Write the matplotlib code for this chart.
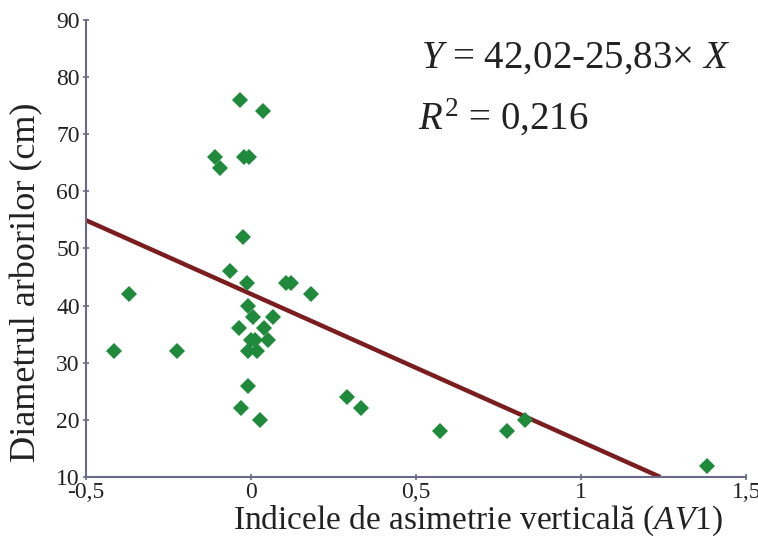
import matplotlib
matplotlib.use("Agg")
import matplotlib.pyplot as plt
import numpy as np

plt.rcParams["font.family"] = ["Liberation Serif", "DejaVu Serif"]
plt.rcParams["mathtext.fontset"] = "custom"
plt.rcParams["mathtext.rm"] = "Liberation Serif"
plt.rcParams["mathtext.it"] = "Liberation Serif:italic"

# asymmetry index AV1 vs tree diameter (cm)
av1 = [-0.414, -0.37, -0.224, -0.035, 0.036, -0.108, -0.095, -0.02, -0.005,
       -0.025, -0.063, -0.013, 0.106, 0.121, 0.183, -0.01, 0.006, 0.066,
       -0.038, 0.04, 0.0, 0.013, 0.052, -0.01, 0.018, -0.01, -0.032, 0.028,
       0.29, 0.334, 0.571, 0.776, 0.829, 1.382]
diam = [32, 42, 32, 76, 74, 66, 64, 66, 66,
        52, 46, 44, 44, 44, 42, 40, 38, 38,
        36, 36, 34, 34, 34, 32, 32, 26, 22, 20,
        24, 22, 18, 18, 20, 12]

intercept = 42.02
slope = -25.83
r2 = 0.216

x_ticks = [-0.5, 0, 0.5, 1, 1.5]
x_tick_labels = ["-0,5", "0", "0,5", "1", "1,5"]
y_ticks = [10, 20, 30, 40, 50, 60, 70, 80, 90]

fig = plt.figure(figsize=(7.58, 5.39), dpi=100)
ax = fig.add_axes([0.1135, 0.115, 0.871, 0.848])

# regression line, cut where it reaches the bottom of the y range
x_end = (10 - intercept) / slope
xl = np.array([-0.5, x_end])
ax.plot(xl, intercept + slope * xl, color="#7b1c1f", lw=3.2, solid_capstyle="butt", zorder=2)

ax.plot(av1, diam, linestyle="none", marker="D", markersize=8.5,
        color="#1f8a3b", markeredgewidth=0, zorder=3)

ax.set_xlim(-0.5, 1.5)
ax.set_ylim(10, 90)
ax.set_xticks(x_ticks)
ax.set_xticklabels(x_tick_labels)
ax.set_yticks(y_ticks)

spine_color = "#6a6a88"
for side in ["top", "right"]:
    ax.spines[side].set_visible(False)
for side in ["left", "bottom"]:
    ax.spines[side].set_color(spine_color)
    ax.spines[side].set_linewidth(1.5)
ax.tick_params(axis="both", colors=spine_color, labelcolor="#222222",
               labelsize=17, length=5, width=1.2, direction="inout")
ax.tick_params(axis="x", pad=1)
ax.tick_params(axis="y", pad=2)

ax.set_ylabel("Diametrul arborilor (cm)", fontsize=26, color="#222222")
ax.yaxis.set_label_coords(-0.064, 0.427)
ax.set_xlabel("Indicele de asimetrie verticală $\\mathit{(AV1)}$", fontsize=24,
              color="#222222")
ax.xaxis.set_label_coords(0.594, -0.057)

ax.text(0.742, 0.917, "$Y$ = 42,02-25,83$\\times$ $X$", transform=ax.transAxes,
        ha="center", va="center", fontsize=28, color="#222222")
ax.text(0.503, 0.786, "$R^2$ = %s" % str(r2).replace(".", ","), transform=ax.transAxes,
        ha="left", va="center", fontsize=28, color="#222222")

fig.savefig("out.png", dpi=100)
